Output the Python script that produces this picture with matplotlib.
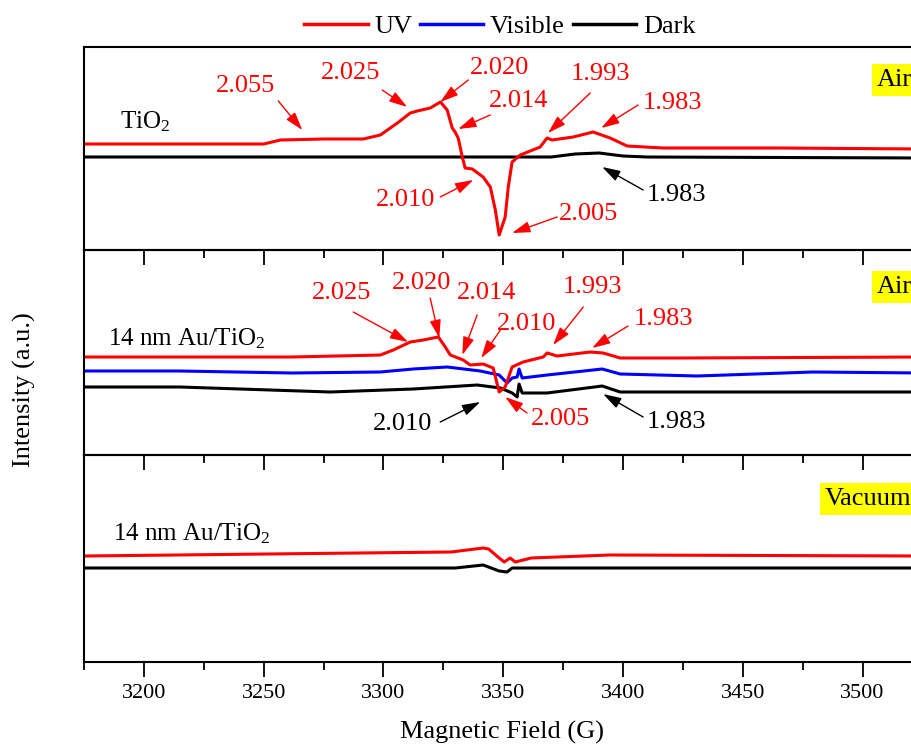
import matplotlib.pyplot as plt
import matplotlib.ticker as tick
from matplotlib.lines import Line2D

plt.rcParams['font.family'] = ['Liberation Serif', 'DejaVu Serif']
plt.rcParams['mathtext.fontset'] = 'custom'
plt.rcParams['mathtext.rm'] = 'Liberation Serif'
plt.rcParams['mathtext.it'] = 'Liberation Serif:italic'

# ---- data (field in G, intensity in arbitrary units per panel) ----
# top panel: TiO2 in air
top_uv_field = [3175, 3230, 3250, 3257, 3275, 3291.6, 3298.7, 3305.8, 3311.2, 3314.1, 3319.5,
                3323.8, 3326.6, 3328.7, 3329.9, 3331.2, 3332.9, 3334.1, 3337.1, 3341.6, 3344.6,
                3346.7, 3348.3, 3350.8, 3352.1, 3353.7, 3357.1, 3365.4, 3368.3, 3370.4, 3379.2,
                3387.5, 3394.6, 3401.7, 3416.7, 3465, 3525]
top_uv_int = [106, 106, 106, 110, 111, 111, 115, 127, 137, 139, 142,
              148, 140, 122, 118, 112, 93, 82, 81, 73, 63,
              40, 15, 33, 63, 88, 95, 103, 112, 110, 113,
              118, 112, 104, 102, 102, 101]
top_dark_field = [3175, 3300, 3370, 3380, 3390, 3400, 3410, 3525]
top_dark_int = [93, 93, 93, 96, 97, 94, 93, 92]

# middle panel: 14 nm Au/TiO2 in air
mid_uv_field = [3175, 3215, 3262, 3298.7, 3304.1, 3311.2, 3316.6, 3322.9, 3325.8, 3327.9, 3333.3,
                3336.2, 3341.6, 3345.8, 3348.3, 3350.8, 3353.7, 3358.3, 3366.7, 3368.3, 3372.5,
                3386.3, 3391.7, 3398.8, 3423.8, 3525]
mid_uv_int = [98, 98, 98, 100, 105, 113, 115, 118, 108, 100, 95,
              90, 91, 87, 63, 68, 88, 93, 98, 102, 99,
              103, 102, 97, 97, 98]
mid_vis_field = [3175, 3215, 3262, 3298.7, 3312.4, 3326.6, 3340.4, 3348.3, 3351.6, 3353.7, 3355.8,
                 3356.6, 3357.9, 3368.3, 3391.3, 3398.8, 3430.9, 3479.3, 3525]
mid_vis_int = [84, 84, 82, 83, 86, 88, 84, 80, 72, 77, 78,
               86, 77, 80, 86, 81, 79, 83, 82]
mid_dark_field = [3175, 3215, 3277.8, 3312.4, 3339.1, 3348.8, 3353.7, 3355.8, 3356.6, 3357.9,
                  3368.3, 3391.3, 3398.8, 3525]
mid_dark_int = [68, 68, 63, 66, 70, 67, 62, 58, 71, 62,
                62, 69, 63, 63]

# bottom panel: 14 nm Au/TiO2 in vacuum
bot_uv_field = [3175, 3328.3, 3341.6, 3343.9, 3348.3, 3350.4, 3352.9, 3355, 3361.7, 3394.6, 3525]
bot_uv_int = [106, 110, 114, 113, 104, 100, 104, 100, 104, 107, 106]
bot_dark_field = [3175, 3330, 3341.6, 3348.3, 3351.6, 3353.7, 3525]
bot_dark_int = [94, 94, 97, 91, 90, 94, 94]

x_ticks = [3200, 3250, 3300, 3350, 3400, 3450, 3500]

# g-value labels: (text, colour, text position, arrow start, arrow tip)
top_notes = [
    ("2.055", "red", (3242.3, 164), (3256.1, 149), (3266.1, 120)),
    ("2.025", "red", (3286.1, 177), (3299.5, 160), (3309.9, 143)),
    ("2.020", "red", (3348.3, 182), (3335.4, 170), (3323.7, 148)),
    ("2.014", "red", (3356.2, 149), (3344.6, 135), (3331.2, 121)),
    ("2.010", "red", (3309.1, 50), (3323.7, 53), (3337.5, 70)),
    ("2.005", "red", (3385.4, 36), (3372.5, 33), (3353.7, 17)),
    ("1.993", "red", (3390.4, 176), (3386.3, 157), (3368.7, 117)),
    ("1.983", "red", (3420.5, 147), (3406.3, 145), (3390.9, 122)),
    ("1.983", "black", (3422.2, 55), (3408.4, 60), (3391.3, 83)),
]
mid_notes = [
    ("2.025", "red", (3282.4, 162), (3287.4, 143), (3310.3, 113)),
    ("2.020", "red", (3315.8, 172), (3319.5, 157), (3323.3, 117)),
    ("2.014", "red", (3342.9, 162), (3339.1, 140), (3332.9, 100)),
    ("2.010", "red", (3359.6, 131), (3348.8, 125), (3340.8, 97)),
    ("1.993", "red", (3387.1, 168), (3383.4, 148), (3370.8, 110)),
    ("1.983", "red", (3416.7, 136), (3402.1, 129), (3387.1, 107)),
    ("2.005", "red", (3373.7, 36), (3359.9, 42), (3350.8, 58)),
    ("2.010", "black", (3307.8, 31), (3323.7, 33), (3340.4, 53)),
    ("1.983", "black", (3422.2, 33), (3408.4, 38), (3391.7, 61)),
]

fig = plt.figure(figsize=(9.12, 7.47), dpi=100)

left = 84 / 912
width = (922.5 - 84) / 912
ax_top = fig.add_axes([left, 1 - 250 / 747, width, 203 / 747])
ax_mid = fig.add_axes([left, 1 - 455 / 747, width, 205 / 747])
ax_bot = fig.add_axes([left, 1 - 662 / 747, width, 207 / 747])
axes = [ax_top, ax_mid, ax_bot]

lw = 2.2
ax_top.plot(top_dark_field, top_dark_int, color="black", lw=lw)
ax_top.plot(top_uv_field, top_uv_int, color="#ff0000", lw=lw)

ax_mid.plot(mid_dark_field, mid_dark_int, color="black", lw=lw)
ax_mid.plot(mid_vis_field, mid_vis_int, color="#0000ff", lw=lw)
ax_mid.plot(mid_uv_field, mid_uv_int, color="#ff0000", lw=lw)

ax_bot.plot(bot_dark_field, bot_dark_int, color="black", lw=lw)
ax_bot.plot(bot_uv_field, bot_uv_int, color="#ff0000", lw=lw)

for ax, top in zip(axes, [203, 205, 207]):
    ax.set_xlim(3175, 3525)
    ax.set_ylim(0, top)
    ax.set_yticks([])
    ax.xaxis.set_major_locator(tick.FixedLocator(x_ticks))
    ax.xaxis.set_minor_locator(tick.MultipleLocator(25))
    ax.tick_params(axis="x", which="major", direction="out", length=11, width=1.3, labelsize=16, pad=5)
    ax.tick_params(axis="x", which="minor", direction="out", length=6, width=1.3)
    for s in ax.spines.values():
        s.set_linewidth(1.5)

ax_top.tick_params(axis="x", labelbottom=False)
ax_mid.tick_params(axis="x", labelbottom=False)
# keep the ticks of upper panels on top of the panel below
ax_top.set_zorder(3)
ax_mid.set_zorder(2)
for ax in axes:
    ax.patch.set_alpha(0)


def add_notes(ax, notes):
    for label, col, txt_xy, start, tip in notes:
        c = "#ff0000" if col == "red" else "black"
        ax.text(txt_xy[0], txt_xy[1], label, color=c, fontsize=19, ha="center", va="center")
        ax.annotate("", xy=tip, xytext=start,
                    arrowprops=dict(arrowstyle="-|>,head_length=0.55,head_width=0.17",
                                    color=c, lw=1, mutation_scale=20, shrinkA=0, shrinkB=0))


add_notes(ax_top, top_notes)
add_notes(ax_mid, mid_notes)

ax_top.text(3190.2, 122, "TiO$_2$", fontsize=18, ha="left", va="baseline")
ax_mid.text(3185.2, 110, "14 nm Au/TiO$_2$", fontsize=18, ha="left", va="baseline")
ax_bot.text(3186.9, 122, "14 nm Au/TiO$_2$", fontsize=18, ha="left", va="baseline")

box = dict(boxstyle="square,pad=0.2", facecolor="#ffff00", edgecolor="none")
ax_top.text(3506, 170, "Air", fontsize=19, ha="left", va="center", bbox=box)
ax_mid.text(3506, 168, "Air", fontsize=19, ha="left", va="center", bbox=box)
ax_bot.text(3484.3, 163, "Vacuum", fontsize=19, ha="left", va="center", bbox=box)

fig.text(0.027, 0.478, "Intensity (a.u.)", rotation=90, fontsize=19, ha="center", va="center")
fig.text(0.5505, 0.02, "Magnetic Field (G)", fontsize=19, ha="center", va="center")

handles = [Line2D([], [], color="#ff0000", lw=2.5),
           Line2D([], [], color="#0000ff", lw=2.5),
           Line2D([], [], color="black", lw=2.5)]
fig.legend(handles, ["UV", "Visible", "Dark"], loc="center", bbox_to_anchor=(0.548, 0.965),
           ncol=3, frameon=False, fontsize=19, handlelength=2.4, handletextpad=0.25,
           columnspacing=0.3, borderaxespad=0)

fig.savefig("out.png", dpi=100)
